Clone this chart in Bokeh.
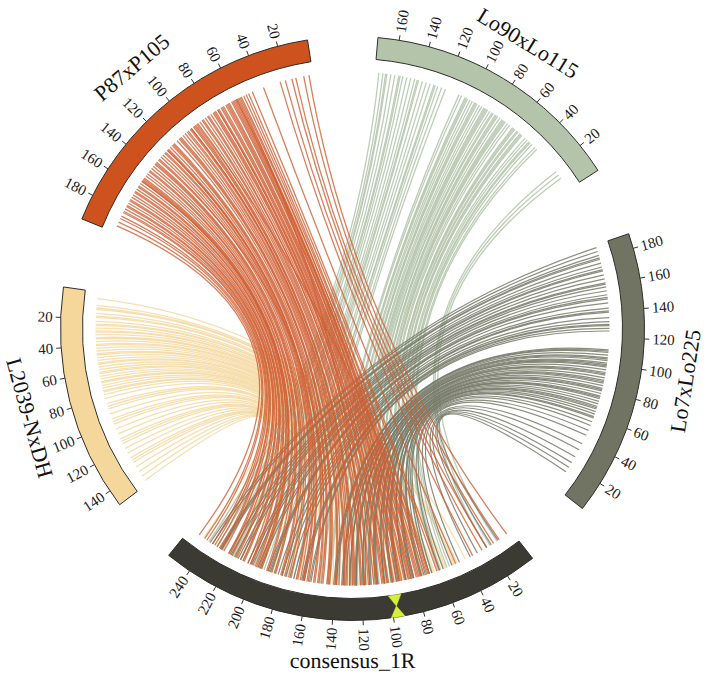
import numpy as np
from bokeh.plotting import figure
from bokeh.models import Range1d, ColumnDataSource
from bokeh.embed import file_html
from bokeh.resources import INLINE
from bokeh.core.properties import value

# ---------------- data ----------------
seg_names = ["Lo90xLo115", "P87xP105", "L2039-NxDH", "consensus_1R", "Lo7xLo225"]
seg_lengths = [174, 197, 151, 257, 190]
seg_reversed = [False, False, False, True, False]
seg_fill = ["#b4c4aa", "#cd521e", "#f5d79b", "#3c3b33", "#717462"]
link_color = {"Lo90xLo115": "#b3c4aa", "P87xP105": "#cf5f33",
              "L2039-NxDH": "#f4d9a2", "Lo7xLo225": "#777a68"}
ticks = {
    "Lo90xLo115": [20, 40, 60, 80, 100, 120, 140, 160],
    "P87xP105": [20, 40, 60, 80, 100, 120, 140, 160, 180],
    "L2039-NxDH": [20, 40, 60, 80, 100, 120, 140],
    "consensus_1R": [20, 40, 60, 80, 100, 120, 140, 160, 180, 200, 220, 240],
    "Lo7xLo225": [20, 40, 60, 80, 100, 120, 140, 160, 180],
}
centromere_cM = 97

# links: (position on map, position on consensus_1R)
p87_links = [(3, 4), (7, 11), (13, 16), (16, 22), (21, 26), (25, 34), (38, 48), (47, 61),
             (50, 63), (52, 69), (54, 70), (57, 73), (59, 77), (60, 78), (60, 81), (61, 79),
             (62, 83), (64, 84), (66, 87), (67, 88), (69, 91), (71, 92), (73, 96), (75, 97),
             (76, 100), (76, 101), (78, 103), (80, 105), (82, 108), (85, 109), (87, 114),
             (89, 115), (92, 120), (94, 121), (96, 125), (98, 126), (100, 129), (100, 131),
             (101, 133), (103, 134), (106, 139), (108, 140), (110, 144), (112, 145), (114, 149),
             (117, 150), (119, 155), (121, 156), (123, 160), (124, 161), (124, 163), (126, 164),
             (129, 168), (131, 169), (133, 173), (136, 175), (138, 180), (140, 181), (142, 185),
             (145, 186), (147, 191), (149, 192), (151, 196), (153, 197), (154, 200), (154, 201),
             (156, 204), (159, 205), (161, 210), (164, 211), (166, 216), (168, 217), (171, 222),
             (173, 223), (176, 229), (178, 230), (181, 235), (184, 237), (186, 242), (189, 244),
             (192, 249), (58, 118), (95, 71), (134, 152),
             (56, 75), (63, 85), (68, 90), (72, 94), (79, 104), (84, 111), (90, 118), (97, 127),
             (104, 137), (111, 146), (118, 153), (127, 166), (137, 178), (144, 188), (152, 198),
             (158, 207), (163, 213), (170, 220), (175, 227), (180, 233)]

lo90_links = [(10, 13), (13, 19), (16, 22), (38, 53), (40, 55), (43, 60), (46, 62), (48, 67),
              (50, 69), (53, 74), (55, 76), (57, 81), (58, 82), (60, 85), (62, 86), (65, 92),
              (67, 93), (69, 97), (71, 98), (72, 102), (74, 103), (76, 107), (78, 108), (80, 113),
              (81, 114), (83, 117), (85, 118), (87, 123), (88, 124), (90, 127), (92, 128),
              (94, 133), (96, 134), (98, 138), (100, 139), (102, 144), (104, 145), (107, 151),
              (109, 152), (120, 169), (123, 171), (126, 177), (129, 180), (132, 186), (135, 188),
              (138, 194), (141, 196), (144, 202), (147, 204), (150, 211), (153, 213), (156, 219),
              (159, 221), (162, 228), (165, 230), (168, 237), (171, 240),
              (45, 61), (54, 75), (61, 87), (70, 98), (77, 108), (86, 121), (95, 133), (103, 146),
              (128, 180), (142, 199), (155, 217), (166, 233)]

lo7_links = [(14, 12), (18, 18), (22, 22), (27, 30), (33, 36), (38, 45), (45, 51), (49, 58),
             (53, 61), (56, 67), (59, 69), (62, 75), (64, 76), (66, 81), (68, 82), (70, 87),
             (72, 87), (74, 92), (76, 93), (78, 97), (80, 98), (82, 103), (84, 103), (86, 108),
             (88, 109), (90, 113), (92, 114), (94, 119), (96, 119), (98, 124), (100, 125),
             (101, 129), (103, 129), (105, 134), (107, 135), (109, 139), (111, 140), (125, 158),
             (127, 159), (129, 163), (132, 165), (135, 171), (139, 174), (142, 180), (146, 183),
             (149, 189), (152, 191), (155, 197), (158, 199), (161, 205), (164, 207), (167, 213),
             (170, 215), (173, 221), (176, 223), (179, 229), (182, 231), (185, 237), (188, 239),
             (60, 72), (67, 83), (75, 94), (81, 101), (87, 110), (93, 117), (99, 124), (104, 132),
             (110, 141), (130, 164), (140, 177), (150, 190), (160, 203), (171, 218), (180, 230)]

l2039_links = [(5, 40), (10, 47), (13, 50), (16, 56), (19, 58), (22, 65), (25, 67), (27, 73),
               (30, 75), (32, 81), (35, 83), (37, 88), (40, 90), (42, 95), (44, 97), (47, 102),
               (49, 104), (51, 109), (54, 111), (56, 116), (58, 118), (61, 123), (63, 125),
               (65, 130), (68, 132), (70, 137), (72, 139), (75, 144), (77, 146), (80, 151),
               (84, 156), (88, 163), (92, 167), (96, 174), (100, 178), (104, 185), (108, 189),
               (112, 196), (116, 200), (120, 207), (124, 211), (128, 218), (132, 222), (136, 229),
               (140, 233), (144, 240), (148, 245),
               (12, 49), (18, 57), (24, 66), (29, 74), (34, 82), (39, 89), (46, 100), (53, 110),
               (60, 121), (67, 131), (74, 142), (86, 160), (98, 176), (114, 198), (130, 220)]

# ---------------- geometry ----------------
DEG_PER_CM = 0.3
START = 32.8
GAP = (360 - DEG_PER_CM * sum(seg_lengths)) / len(seg_lengths)
R_IN, R_OUT, R_LINK = 270, 292, 257
label_r = {"Lo90xLo115": 335, "P87xP105": 342, "L2039-NxDH": 335,
           "consensus_1R": 332, "Lo7xLo225": 337}
label_shift = {"Lo90xLo115": -0.5, "P87xP105": 1.8, "L2039-NxDH": 1.0,
               "consensus_1R": 0.5, "Lo7xLo225": 0.6}

seg_start = {}
a = START
for name, L in zip(seg_names, seg_lengths):
    seg_start[name] = a
    a += L * DEG_PER_CM + GAP


def angle(name, pos):
    i = seg_names.index(name)
    L = seg_lengths[i]
    q = L - pos if seg_reversed[i] else pos
    return seg_start[name] + q * DEG_PER_CM


W, H = 711, 688
CXP, CYP = 352, 328
p = figure(width=W, height=H, output_backend="svg", toolbar_location=None,
           x_range=Range1d(-CXP, W - CXP), y_range=Range1d(CYP - H, CYP),
           x_axis_type=None, y_axis_type=None, min_border=0)
p.grid.visible = False
p.outline_line_color = None
p.background_fill_color = "white"
p.border_fill_color = "white"

FONT = value("Liberation Serif")


def add_links(pairs, name, alpha, width):
    a0 = np.radians([angle(name, m) for m, c in pairs])
    a1 = np.radians([angle("consensus_1R", c) for m, c in pairs])
    n = len(pairs)
    src = ColumnDataSource(dict(x0=R_LINK * np.cos(a0), y0=R_LINK * np.sin(a0),
                                x1=R_LINK * np.cos(a1), y1=R_LINK * np.sin(a1),
                                cx=np.zeros(n), cy=np.zeros(n)))
    p.quadratic(x0="x0", y0="y0", x1="x1", y1="y1", cx="cx", cy="cy", source=src,
                line_color=link_color[name], line_alpha=alpha, line_width=width)


add_links(l2039_links, "L2039-NxDH", 0.85, 1.3)
add_links(lo90_links, "Lo90xLo115", 0.85, 1.3)
add_links(lo7_links, "Lo7xLo225", 0.85, 1.2)
add_links(p87_links, "P87xP105", 0.8, 1.3)

# ideogram arcs
for name, L, col in zip(seg_names, seg_lengths, seg_fill):
    s = np.radians(seg_start[name])
    e = np.radians(seg_start[name] + L * DEG_PER_CM)
    p.annular_wedge(x=0, y=0, inner_radius=R_IN, outer_radius=R_OUT,
                    start_angle=s, end_angle=e, fill_color=col,
                    line_color="#2e2e2a", line_width=1)

# centromere on consensus
ac = angle("consensus_1R", centromere_cM)
d = 4.5 * DEG_PER_CM
R_MID = (R_IN + R_OUT) / 2
xs, ys = [], []
for rb in (R_IN, R_OUT):
    pts = [(rb, ac - d), (rb, ac + d), (R_MID, ac)]
    xs.append([r * np.cos(np.radians(t)) for r, t in pts])
    ys.append([r * np.sin(np.radians(t)) for r, t in pts])
p.patches(xs, ys, fill_color="#d6ef3a", line_color="#d6ef3a", line_width=0.5)

# ticks and tick labels
tx0, ty0, tx1, ty1 = [], [], [], []
lab_r = dict(x=[], y=[], text=[], angle=[])
lab_l = dict(x=[], y=[], text=[], angle=[])
for name in seg_names:
    for t in ticks[name]:
        th = angle(name, t)
        rad = np.radians(th)
        tx0.append(R_OUT * np.cos(rad)); ty0.append(R_OUT * np.sin(rad))
        tx1.append((R_OUT + 5) * np.cos(rad)); ty1.append((R_OUT + 5) * np.sin(rad))
        rl = R_OUT + 8
        if np.cos(rad) >= 0:
            tgt, ang = lab_r, rad
        else:
            tgt, ang = lab_l, rad + np.pi
        tgt["x"].append(rl * np.cos(rad)); tgt["y"].append(rl * np.sin(rad))
        tgt["text"].append(str(t)); tgt["angle"].append(ang)
p.segment(tx0, ty0, tx1, ty1, line_color="#333333", line_width=1)
p.text(x="x", y="y", text="text", angle="angle", source=ColumnDataSource(lab_r),
       text_font=FONT, text_font_size="15px", text_align="left",
       text_baseline="middle", text_color="#1a1a1a")
p.text(x="x", y="y", text="text", angle="angle", source=ColumnDataSource(lab_l),
       text_font=FONT, text_font_size="15px", text_align="right",
       text_baseline="middle", text_color="#1a1a1a")

# segment names
nx, ny, nt, na = [], [], [], []
for name, L in zip(seg_names, seg_lengths):
    th = seg_start[name] + L * DEG_PER_CM / 2 + label_shift[name]
    rad = np.radians(th)
    r = label_r[name]
    nx.append(r * np.cos(rad)); ny.append(r * np.sin(rad))
    nt.append(name)
    na.append(rad - np.pi / 2 if np.sin(rad) > 0 else rad + np.pi / 2)
p.text(x=nx, y=ny, text=nt, angle=na, text_font=FONT, text_font_size="22px",
       text_align="center", text_baseline="middle", text_color="#111111")

open("out.html", "w").write(file_html(p, INLINE))
